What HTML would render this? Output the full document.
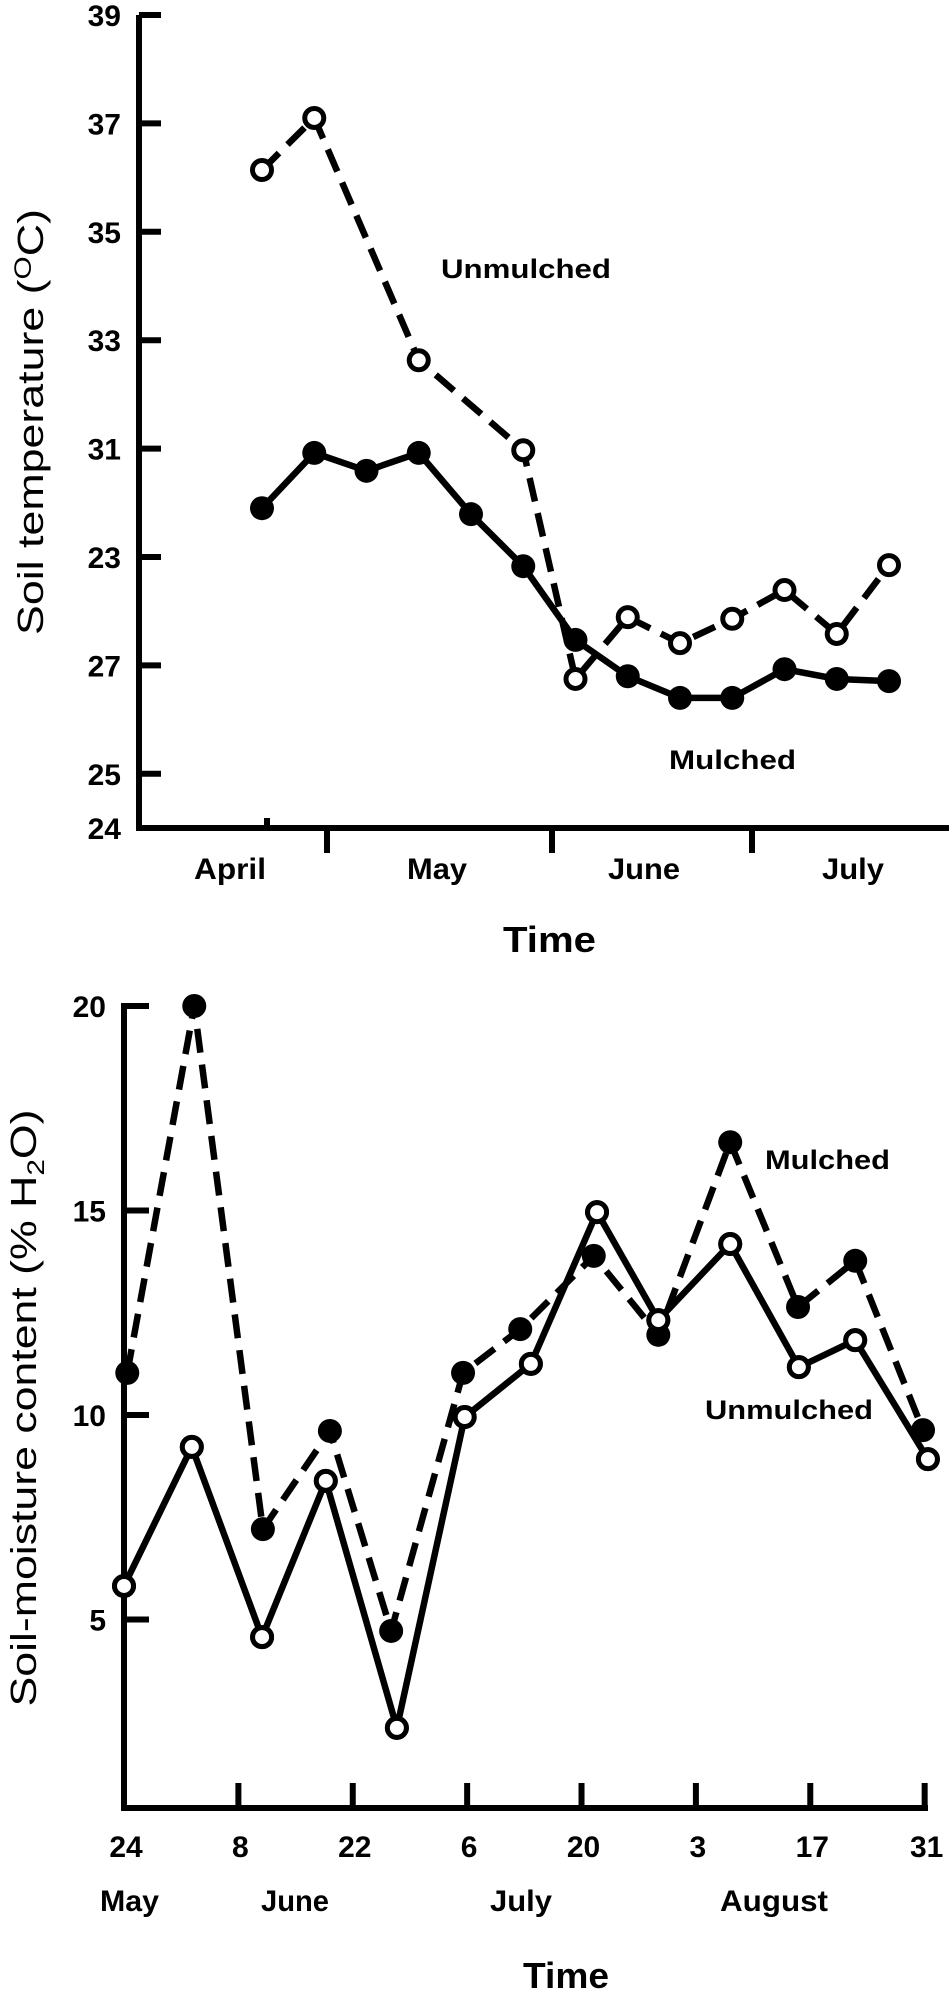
<!DOCTYPE html>
<html><head><meta charset="utf-8">
<style>
html,body{margin:0;padding:0;background:#fff;}
svg{display:block;font-family:"Liberation Sans",Arial,sans-serif;}
</style></head>
<body>
<svg id="chart" width="951" height="1990" viewBox="0 0 951 1990" xmlns="http://www.w3.org/2000/svg">
  <g id="top"></g>
  <g id="bot"></g>
</svg>
<script>
// ---------- Top chart data ----------
const topTickValues = [39, 37, 35, 33, 31, 29, 27, 25, 24];
const topTickLabels = ['39', '37', '35', '33', '31', '23', '27', '25', '24'];
const topMonths = ['April', 'May', 'June', 'July'];
const topUnmulchedIdx = [0, 1, 3, 5, 6, 7, 8, 9, 10, 11, 12];
const topUnmulchedVals = [36.14, 37.10, 32.63, 30.97, 26.75, 27.89, 27.41, 27.86, 28.39, 27.58, 28.85];
const topMulchedIdx = [0, 1, 2, 3, 4, 5, 6, 7, 8, 9, 10, 11, 12];
const topMulchedVals = [29.90, 30.92, 30.59, 30.92, 29.79, 28.83, 27.47, 26.80, 26.40, 26.40, 26.93, 26.75, 26.71];

// ---------- Bottom chart data ----------
const botTickValues = [20, 15, 10, 5];
const botTickLabels = ['20', '15', '10', '5'];
const botDayTicks = [0, 14, 28, 42, 56, 70, 84, 98];
const botDayLabels = ['24', '8', '22', '6', '20', '3', '17', '31'];
const botMonthLabels = ['May', 'June', 'July', 'August'];
const botMulchedDays = [0.4, 8.6, 17.0, 25.2, 32.7, 41.5, 48.5, 57.5, 65.4, 74.2, 82.5, 89.5, 97.8];
const botMulchedVals = [11.03, 20.0, 7.21, 9.61, 4.72, 11.03, 12.1, 13.89, 11.96, 16.67, 12.64, 13.77, 9.63];
const botUnmulchedDays = [0, 8.3, 16.9, 24.7, 33.4, 41.7, 49.8, 57.9, 65.4, 74.2, 82.6, 89.5, 98.4];
const botUnmulchedVals = [5.82, 9.22, 4.57, 8.39, 2.35, 9.95, 11.25, 14.96, 12.32, 14.18, 11.17, 11.83, 8.92];

const NS = 'http://www.w3.org/2000/svg';
function mk(parent, tag, attrs) {
  const e = document.createElementNS(NS, tag);
  for (const k in attrs) e.setAttribute(k, attrs[k]);
  parent.appendChild(e);
  return e;
}
const topG = document.getElementById('top');
const botG = document.getElementById('bot');

// ---------- Top axes ----------
const tY = v => 15 + (39 - v) * 54.2;
const tX = i => 262 + i * 52.25;
const tAxisX = 139, tAxisY = 828;

let el = mk(topG, 'path', {d: `M${tAxisX} 15 V${tAxisY} H949`, fill: 'none', stroke: '#000', 'stroke-width': 6});



topTickValues.forEach((v, i) => {
  const y = tY(v);
  if (i < topTickValues.length - 1) {
    const t = mk(topG, 'line', {x1: tAxisX, x2: 161, y1: y, y2: y, stroke: '#000', 'stroke-width': 6});
    
    
  }
  const lb = mk(topG, 'text', {x: 121, y: y + 11, 'text-anchor': 'end', 'font-size': 30, 'font-weight': 'bold'});
  lb.textContent = topTickLabels[i];
  
  
});
[327, 552, 752].forEach(x => {
  const t = mk(topG, 'line', {x1: x, x2: x, y1: tAxisY, y2: tAxisY + 25, stroke: '#000', 'stroke-width': 6});
  
  
});
el = mk(topG, 'line', {x1: 267, x2: 267, y1: tAxisY - 10, y2: tAxisY, stroke: '#000', 'stroke-width': 6});



const topMonthX = [230, 437, 644, 853];
const topMonthW = [72, 60, 72, 62];
topMonths.forEach((m, i) => {
  const t = mk(topG, 'text', {x: topMonthX[i] - topMonthW[i] / 2, y: 879, 'font-size': 30, 'font-weight': 'bold', textLength: topMonthW[i], lengthAdjust: 'spacingAndGlyphs'});
  t.textContent = m;
  
  
});
el = mk(topG, 'text', {x: 503, y: 952, 'font-size': 36, 'font-weight': 'bold', textLength: 93, lengthAdjust: 'spacingAndGlyphs'});
el.textContent = 'Time';



el = mk(topG, 'text', {transform: 'translate(43,422) rotate(-90)', 'text-anchor': 'middle', 'font-size': 36, textLength: 426, lengthAdjust: 'spacingAndGlyphs'});
el.innerHTML = 'Soil temperature (<tspan dy="-12" font-size="24">O</tspan><tspan dy="12">C)</tspan>';



function series(g, xs, ys, dashed, filled, name) {
  const pts = xs.map((x, i) => `${x},${ys[i]}`).join(' ');
  const pl = mk(g, 'polyline', {points: pts, fill: 'none', stroke: '#000', 'stroke-width': 6.5, 'stroke-dasharray': dashed ? '24 12' : 'none'});
  
  
  xs.forEach((x, i) => {
    const c = mk(g, 'circle', filled ? {cx: x, cy: ys[i], r: 12, fill: '#000'} : {cx: x, cy: ys[i], r: 9.5, fill: '#fff', stroke: '#000', 'stroke-width': 5});
    
    
  });
}
series(topG, topMulchedIdx.map(tX), topMulchedVals.map(tY), false, true, 'temp-mulched');
series(topG, topUnmulchedIdx.map(tX), topUnmulchedVals.map(tY), true, false, 'temp-unmulched');

el = mk(topG, 'text', {x: 441, y: 278, 'font-size': 27, 'font-weight': 'bold', textLength: 170, lengthAdjust: 'spacingAndGlyphs'});
el.textContent = 'Unmulched';


el = mk(topG, 'text', {x: 669, y: 769, 'font-size': 27, 'font-weight': 'bold', textLength: 127, lengthAdjust: 'spacingAndGlyphs'});
el.textContent = 'Mulched';



// ---------- Bottom axes ----------
const bY = v => 1006 + (20 - v) * 40.9;
const bX = d => 124 + d * 8.17;
const bAxisX = 124, bAxisY = 1808;

el = mk(botG, 'path', {d: `M${bAxisX + 25} 1006 H${bAxisX} V${bAxisY} H928`, fill: 'none', stroke: '#000', 'stroke-width': 6});



botTickValues.forEach((v, i) => {
  const y = bY(v);
  const t = mk(botG, 'line', {x1: bAxisX, x2: 149, y1: y, y2: y, stroke: '#000', 'stroke-width': 6});
  
  
  const lb = mk(botG, 'text', {x: 106, y: y + 11, 'text-anchor': 'end', 'font-size': 30, 'font-weight': 'bold'});
  lb.textContent = botTickLabels[i];
  
  
});
botDayTicks.forEach((d, i) => {
  const x = bX(d);
  if (i > 0) {
    const t = mk(botG, 'line', {x1: x, x2: x, y1: bAxisY - 25, y2: bAxisY, stroke: '#000', 'stroke-width': 6});
    
    
  }
  const lb = mk(botG, 'text', {x: x + 2, y: 1857, 'text-anchor': 'middle', 'font-size': 30, 'font-weight': 'bold'});
  lb.textContent = botDayLabels[i];
  
  
});
const botMonthX = [100, 261, 490, 720];
const botMonthW = [59, 68, 62, 108];
botMonthLabels.forEach((m, i) => {
  const t = mk(botG, 'text', {x: botMonthX[i], y: 1911, 'font-size': 30, 'font-weight': 'bold', textLength: botMonthW[i], lengthAdjust: 'spacingAndGlyphs'});
  t.textContent = m;
  
  
});
el = mk(botG, 'text', {x: 523, y: 1988, 'font-size': 36, 'font-weight': 'bold', textLength: 86, lengthAdjust: 'spacingAndGlyphs'});
el.textContent = 'Time';



el = mk(botG, 'text', {transform: 'translate(36,1408) rotate(-90)', 'text-anchor': 'middle', 'font-size': 36, textLength: 597, lengthAdjust: 'spacingAndGlyphs'});
el.innerHTML = 'Soil-moisture content (% H<tspan dy="8" font-size="24">2</tspan><tspan dy="-8">O)</tspan>';



series(botG, botUnmulchedDays.map(bX), botUnmulchedVals.map(bY), false, false, 'moisture-unmulched');
series(botG, botMulchedDays.map(bX), botMulchedVals.map(bY), true, true, 'moisture-mulched');
// redraw unmulched points on top
botUnmulchedDays.forEach((d, i) => {
  const c = mk(botG, 'circle', {cx: bX(d), cy: bY(botUnmulchedVals[i]), r: 9.5, fill: '#fff', stroke: '#000', 'stroke-width': 5});
  
  
});

el = mk(botG, 'text', {x: 765, y: 1169, 'font-size': 27, 'font-weight': 'bold', textLength: 125, lengthAdjust: 'spacingAndGlyphs'});
el.textContent = 'Mulched';


el = mk(botG, 'text', {x: 705, y: 1419, 'font-size': 27, 'font-weight': 'bold', textLength: 168, lengthAdjust: 'spacingAndGlyphs'});
el.textContent = 'Unmulched';


</script>
</body></html>
